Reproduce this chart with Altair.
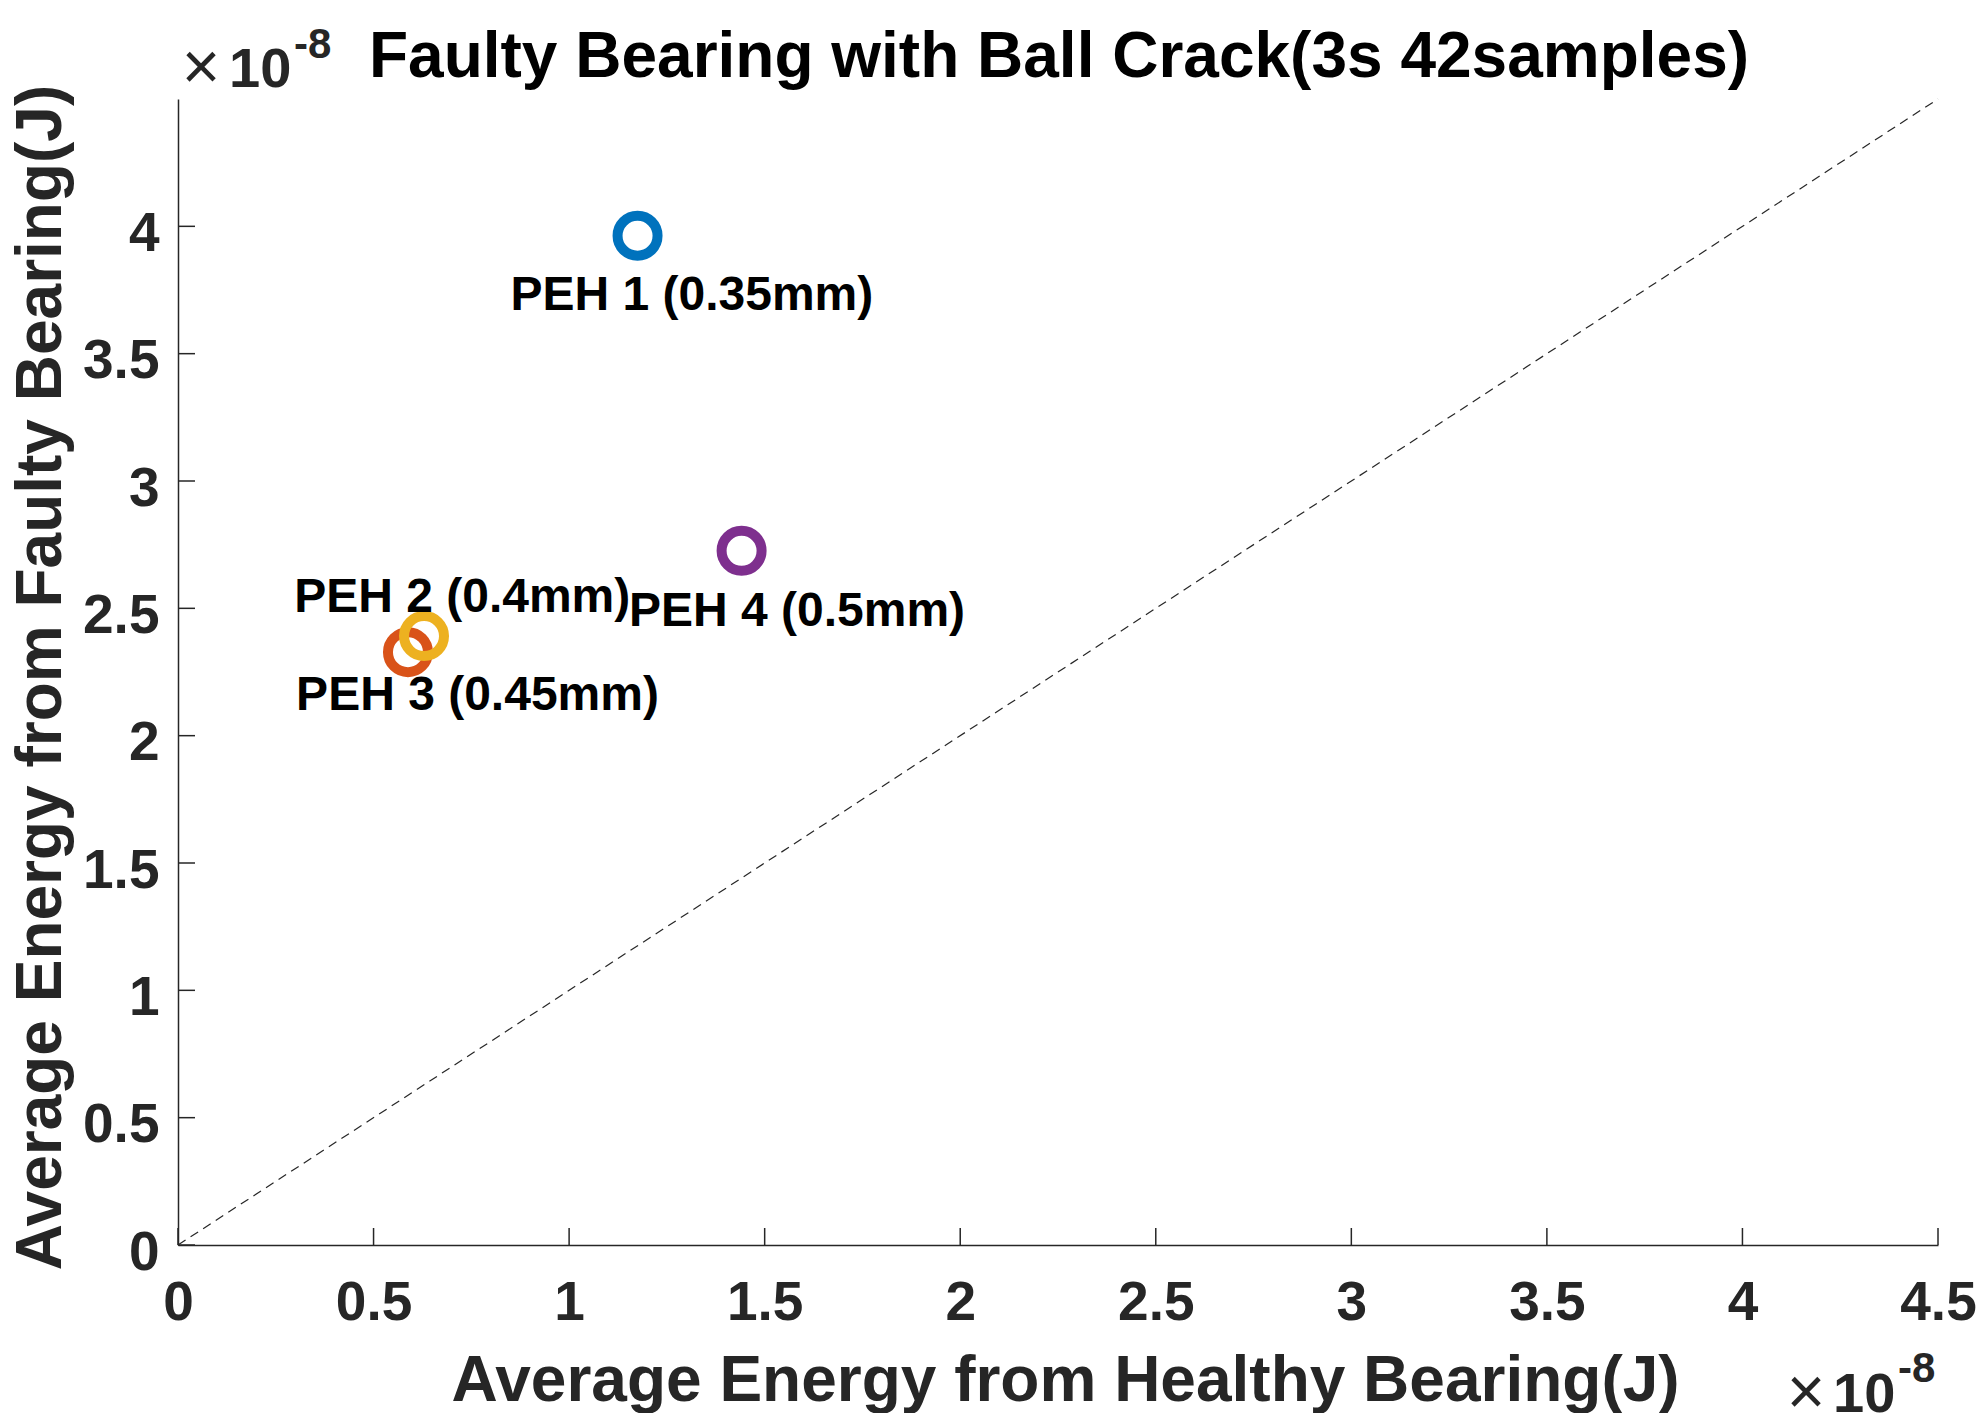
import altair as alt
import pandas as pd

# ---- data (values in units of 1e-8 J) ----
names = ["PEH 1 (0.35mm)", "PEH 2 (0.4mm)", "PEH 3 (0.45mm)", "PEH 4 (0.5mm)"]
healthy = [1.175, 0.588, 0.629, 1.441]
faulty = [3.963, 2.328, 2.391, 2.726]
label_x = [0.850, 0.297, 0.302, 1.153]
label_y = [3.671, 2.484, 2.100, 2.430]
colors = ["#0072BD", "#D95319", "#EDB120", "#7E2F8E"]
diag_x = [0.0, 4.5]
diag_y = [0.0, 4.5]
x_ticks = [0, 0.5, 1, 1.5, 2, 2.5, 3, 3.5, 4, 4.5]
y_ticks = [0, 0.5, 1, 1.5, 2, 2.5, 3, 3.5, 4]

FONT = "Liberation Sans"
AX = "#262626"
W, H = 1760, 1146

pts = pd.DataFrame({"name": names, "healthy": healthy, "faulty": faulty,
                    "lx": label_x, "ly": label_y})
diag = pd.DataFrame({"healthy": diag_x, "faulty": diag_y})
xt = pd.DataFrame({"v": x_ticks})
yt = pd.DataFrame({"v": y_ticks})
one = pd.DataFrame({"a": [0]})

xscale = alt.Scale(domain=[0, 4.5], nice=False, zero=False)
yscale = alt.Scale(domain=[0, 4.5], nice=False, zero=False)

xaxis = alt.Axis(values=x_ticks, format="~g", grid=False, ticks=False, tickSize=0,
                 labelFont=FONT, labelFontSize=55, labelFontWeight="bold", labelColor=AX,
                 labelPadding=31, labelFlush=False, labelOverlap=False,
                 domainColor=AX, domainWidth=1.5,
                 title="Average Energy from Healthy Bearing(J)", titleFont=FONT,
                 titleFontSize=64, titleFontWeight="bold", titleColor=AX,
                 titleX=887, titleY=155, titleBaseline="alphabetic", titleAlign="center")
yaxis = alt.Axis(values=y_ticks, format="~g", grid=False, ticks=False, tickSize=0,
                 labelFont=FONT, labelFontSize=55, labelFontWeight="bold", labelColor=AX,
                 labelPadding=19, labelFlush=False, labelOverlap=False, labelOffset=7,
                 domainColor=AX, domainWidth=1.5,
                 title="Average Energy from Faulty Bearing(J)", titleFont=FONT,
                 titleFontSize=64, titleFontWeight="bold", titleColor=AX,
                 titleX=-118, titleY=578, titleAngle=270, titleBaseline="alphabetic",
                 titleAlign="center")

X = lambda f: alt.X(f, type="quantitative", scale=xscale, axis=xaxis)
Y = lambda f: alt.Y(f, type="quantitative", scale=yscale, axis=yaxis)

diag_line = alt.Chart(diag).mark_line(color="#262626", strokeWidth=1.2, strokeDash=[9, 6]).encode(
    x=X("healthy"), y=Y("faulty"),
)

xtick = alt.Chart(xt).mark_rule(color=AX, strokeWidth=1.5).encode(
    x=X("v"), y=alt.value(H), y2=alt.value(H - 17),
)
ytick = alt.Chart(yt).mark_rule(color=AX, strokeWidth=1.5).encode(
    y=Y("v"), x=alt.value(0), x2=alt.value(17),
)

points = alt.Chart(pts).mark_point(shape="circle", filled=False, size=1600, strokeWidth=10, opacity=1).encode(
    x=X("healthy"), y=Y("faulty"),
    color=alt.Color("name:N", scale=alt.Scale(domain=names, range=colors), legend=None),
)

labels = alt.Chart(pts).mark_text(align="left", baseline="alphabetic", font=FONT,
                                  fontSize=48, fontWeight="bold", color="black").encode(
    x=X("lx"), y=Y("ly"), text="name:N",
)


def txt(s, x, y, size, weight="bold", align="left", color=AX):
    return alt.Chart(one).mark_text(text=s, align=align, baseline="alphabetic", font=FONT,
                                    fontSize=size, fontWeight=weight, color=color).encode(
        x=alt.value(x), y=alt.value(y))


title = txt("Faulty Bearing with Ball Crack(3s 42samples)", 881, -22, 64, align="center", color="black")
ex1 = txt("\u00d7", 23, -10, 66, weight="normal", align="center")
ex2 = txt("10", 51, -12, 56)
ex3 = txt("-8", 116, -41, 42)
ex4 = txt("\u00d7", 1628, 1315, 66, weight="normal", align="center")
ex5 = txt("10", 1655, 1313, 56)
ex6 = txt("-8", 1720, 1283, 42)

chart = alt.layer(diag_line, xtick, ytick, points, labels, title,
                  ex1, ex2, ex3, ex4, ex5, ex6).properties(
    width=W, height=H,
    autosize=alt.AutoSizeParams(type="none"),
    padding={"left": 170, "top": 91, "right": 38, "bottom": 168},
    background="white",
).configure_view(stroke=None)

chart.save("out.html", embed_options={"renderer": "svg", "actions": False})
